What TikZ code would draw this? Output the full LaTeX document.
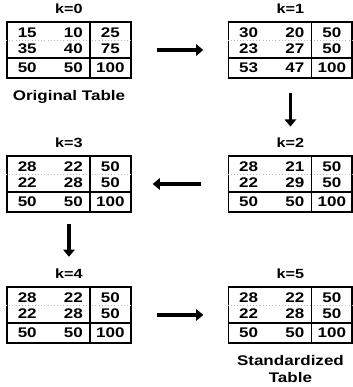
\documentclass[tikz,border=0pt]{standalone}
\usepackage{fontspec}
\setmainfont{Liberation Sans}[FakeStretch=1.22]
\usetikzlibrary{positioning, arrows.meta, calc}

\tikzset{
  tablebox/.style={draw, line width=1.4pt, minimum width=3.28cm, minimum height=1.49cm, inner sep=0pt},
  rule/.style={line width=1.4pt},
  dotrule/.style={gray!55, dotted, line width=0.4pt},
  entry/.style={inner sep=0pt, font=\fontsize{10.5}{12}\selectfont\bfseries},
  klabel/.style={inner sep=0pt, font=\fontsize{10}{12}\selectfont\bfseries},
  caption/.style={inner sep=0pt, align=center, font=\fontsize{10.5}{13}\selectfont\bfseries},
  flow/.style={line width=2.8pt, -{Triangle[length=0.19cm, width=0.3cm]}}
}

% fills one 3x3 table: inner rules and the nine entries, row by row
\newcommand{\tablevalues}[2]{%
  \draw[dotrule] ($(#1.north west)+(0,-0.52)$) -- ($(#1.north east)+(0,-0.52)$);
  \draw[rule] ($(#1.north west)+(2.22,0)$) -- ($(#1.south west)+(2.22,0)$);
  \draw[rule] ($(#1.north west)+(0,-0.99)$) -- ($(#1.north east)+(0,-0.99)$);
  \foreach \v [count=\i from 0] in {#2} {
    \pgfmathtruncatemacro\colno{mod(\i,3)}
    \pgfmathtruncatemacro\rowno{int(\i/3)}
    \pgfmathsetmacro\colx{{0.56,1.78,2.76}[\colno]}
    \pgfmathsetmacro\rowy{{0.32,0.73,1.25}[\rowno]}
    \node[entry] (#1-\i) at ($(#1.north west)+(\colx,-\rowy)$) {\v};
  }
}

\begin{document}
\begin{tikzpicture}
  \useasboundingbox (0,0) rectangle (9.34,-10.24);

  % Tables
  \node[tablebox] (t0) at (1.825,-1.323) {};
  \node[tablebox] (t1) at (7.685,-1.323) {};
  \node[tablebox] (t2) at (7.685,-4.868) {};
  \node[tablebox] (t3) at (1.825,-4.868) {};
  \node[tablebox] (t4) at (1.825,-8.333) {};
  \node[tablebox] (t5) at (7.685,-8.333) {};

  \tablevalues{t0}{15,10,25,35,40,75,50,50,100}
  \tablevalues{t1}{30,20,50,23,27,50,53,47,100}
  \tablevalues{t2}{28,21,50,22,29,50,50,50,100}
  \tablevalues{t3}{28,22,50,22,28,50,50,50,100}
  \tablevalues{t4}{28,22,50,22,28,50,50,50,100}
  \tablevalues{t5}{28,22,50,22,28,50,50,50,100}

  % Step labels
  \node[klabel, above=0.18cm of t0] (k0) {k=0};
  \node[klabel, above=0.18cm of t1] (k1) {k=1};
  \node[klabel, above=0.18cm of t2] (k2) {k=2};
  \node[klabel, above=0.18cm of t3] (k3) {k=3};
  \node[klabel, above=0.18cm of t4] (k4) {k=4};
  \node[klabel, above=0.18cm of t5] (k5) {k=5};

  \node[caption, below=0.3cm of t0] (c0) {Original Table};
  \node[caption, below=0.3cm of t5] (c5) {Standardized\\Table};

  % Arrows
  \draw[flow, shorten <=0.66cm, shorten >=0.64cm] (t0.east) -- (t1.west);
  \draw[flow, shorten <=0.38cm, shorten >=0.3cm] (t1.south) -- (k2.north);
  \draw[flow, shorten <=0.7cm, shorten >=0.55cm] (t2.west) -- (t3.east);
  \draw[flow, shorten <=0.28cm, shorten >=0.32cm] (t3.south) -- (k4.north);
  \draw[flow, shorten <=0.66cm, shorten >=0.64cm] (t4.east) -- (t5.west);
\end{tikzpicture}
\end{document}
